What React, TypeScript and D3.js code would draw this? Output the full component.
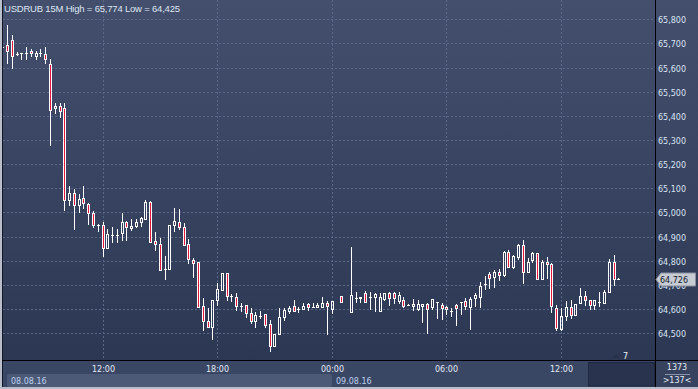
import * as d3 from 'd3'

// USDRUB, 15 minute candles, 08.08.16 06:45 .. 09.08.16 15:00
const SYMBOL = 'USDRUB'
const PERIOD = '15M'

const TIMES = [
  '08.08.16 06:45',
  '08.08.16 07:00', '08.08.16 07:15', '08.08.16 07:30', '08.08.16 07:45',
  '08.08.16 08:00', '08.08.16 08:15', '08.08.16 08:30', '08.08.16 08:45',
  '08.08.16 09:00', '08.08.16 09:15', '08.08.16 09:30', '08.08.16 09:45',
  '08.08.16 10:00', '08.08.16 10:15', '08.08.16 10:30', '08.08.16 10:45',
  '08.08.16 11:00', '08.08.16 11:15', '08.08.16 11:30', '08.08.16 11:45',
  '08.08.16 12:00', '08.08.16 12:15', '08.08.16 12:30', '08.08.16 12:45',
  '08.08.16 13:00', '08.08.16 13:15', '08.08.16 13:30', '08.08.16 13:45',
  '08.08.16 14:00', '08.08.16 14:15', '08.08.16 14:30', '08.08.16 14:45',
  '08.08.16 15:00', '08.08.16 15:15', '08.08.16 15:30', '08.08.16 15:45',
  '08.08.16 16:00', '08.08.16 16:15', '08.08.16 16:30', '08.08.16 16:45',
  '08.08.16 17:00', '08.08.16 17:15', '08.08.16 17:30', '08.08.16 17:45',
  '08.08.16 18:00', '08.08.16 18:15', '08.08.16 18:30', '08.08.16 18:45',
  '08.08.16 19:00', '08.08.16 19:15', '08.08.16 19:30', '08.08.16 19:45',
  '08.08.16 20:00', '08.08.16 20:15', '08.08.16 20:30', '08.08.16 20:45',
  '08.08.16 21:00', '08.08.16 21:15', '08.08.16 21:30', '08.08.16 21:45',
  '08.08.16 22:00', '08.08.16 22:15', '08.08.16 22:30', '08.08.16 22:45',
  '08.08.16 23:00', '08.08.16 23:15', '08.08.16 23:30', '08.08.16 23:45',
  '09.08.16 00:00', '09.08.16 00:30', '09.08.16 01:00', '09.08.16 01:15',
  '09.08.16 01:30', '09.08.16 01:45', '09.08.16 02:00', '09.08.16 02:15',
  '09.08.16 02:30', '09.08.16 02:45', '09.08.16 03:00', '09.08.16 03:15',
  '09.08.16 03:30', '09.08.16 03:45', '09.08.16 04:00', '09.08.16 04:15',
  '09.08.16 04:30', '09.08.16 04:45', '09.08.16 05:00', '09.08.16 05:15',
  '09.08.16 05:30', '09.08.16 05:45', '09.08.16 06:00', '09.08.16 06:15',
  '09.08.16 06:30', '09.08.16 06:45', '09.08.16 07:00', '09.08.16 07:15',
  '09.08.16 07:30', '09.08.16 07:45', '09.08.16 08:00', '09.08.16 08:15',
  '09.08.16 08:30', '09.08.16 08:45', '09.08.16 09:00', '09.08.16 09:15',
  '09.08.16 09:30', '09.08.16 09:45', '09.08.16 10:00', '09.08.16 10:15',
  '09.08.16 10:30', '09.08.16 10:45', '09.08.16 11:00', '09.08.16 11:15',
  '09.08.16 11:30', '09.08.16 11:45', '09.08.16 12:00', '09.08.16 12:15',
  '09.08.16 12:30', '09.08.16 12:45', '09.08.16 13:00', '09.08.16 13:15',
  '09.08.16 13:30', '09.08.16 13:45', '09.08.16 14:00', '09.08.16 14:15',
  '09.08.16 14:30', '09.08.16 14:45', '09.08.16 15:00',
]

const OPENS = [
  65.685, 65.693, 65.714, 65.658, 65.659, 65.660, 65.670, 65.648, 65.661, 65.655,
  65.613, 65.433, 65.441, 65.432, 65.052, 65.082, 65.030, 65.059, 65.035, 64.997,
  64.950, 64.950, 64.852, 64.907, 64.908, 64.914, 64.961, 64.936, 64.944, 64.962,
  64.975, 65.045, 64.882, 64.869, 64.766, 64.766, 64.949, 64.962, 64.941, 64.869,
  64.802, 64.795, 64.613, 64.551, 64.525, 64.638, 64.680, 64.749, 64.655, 64.652,
  64.613, 64.616, 64.586, 64.551, 64.572, 64.579, 64.539, 64.448, 64.496, 64.569,
  64.594, 64.613, 64.600, 64.602, 64.620, 64.608, 64.608, 64.610, 64.625, 64.601,
  64.655, 64.590, 64.648, 64.645, 64.668, 64.649, 64.652, 64.594, 64.641, 64.666,
  64.666, 64.635, 64.637, 64.619, 64.612, 64.601, 64.612, 64.622, 64.610, 64.629,
  64.616, 64.609, 64.593, 64.617, 64.631, 64.634, 64.610, 64.645, 64.652, 64.704,
  64.744, 64.731, 64.753, 64.740, 64.836, 64.773, 64.817, 64.864, 64.753, 64.804,
  64.831, 64.724, 64.797, 64.786, 64.606, 64.517, 64.572, 64.610, 64.576, 64.625,
  64.656, 64.638, 64.617, 64.631, 64.625, 64.670, 64.794, 64.725,
]

const HIGHS = [
  65.688, 65.774, 65.735, 65.664, 65.660, 65.684, 65.675, 65.670, 65.675, 65.684,
  65.634, 65.453, 65.453, 65.455, 65.110, 65.096, 65.077, 65.110, 65.041, 65.008,
  64.953, 64.962, 64.931, 64.939, 64.932, 64.999, 64.965, 64.972, 64.975, 64.983,
  65.052, 65.048, 64.920, 64.895, 64.820, 64.949, 65.018, 65.013, 64.956, 64.889,
  64.811, 64.797, 64.646, 64.604, 64.638, 64.710, 64.749, 64.749, 64.663, 64.668,
  64.627, 64.616, 64.604, 64.590, 64.594, 64.580, 64.553, 64.496, 64.604, 64.604,
  64.613, 64.638, 64.608, 64.625, 64.625, 64.627, 64.625, 64.652, 64.634, 64.634,
  64.655, 64.856, 64.671, 64.652, 64.675, 64.673, 64.668, 64.666, 64.668, 64.673,
  64.670, 64.670, 64.652, 64.620, 64.641, 64.638, 64.622, 64.627, 64.642, 64.629,
  64.627, 64.615, 64.604, 64.620, 64.631, 64.645, 64.652, 64.666, 64.714, 64.737,
  64.753, 64.762, 64.765, 64.839, 64.845, 64.824, 64.868, 64.886, 64.811, 64.838,
  64.834, 64.804, 64.815, 64.790, 64.617, 64.604, 64.635, 64.638, 64.622, 64.687,
  64.675, 64.638, 64.638, 64.673, 64.680, 64.808, 64.824, 64.727,
]

const LOWS = [
  65.683, 65.618, 65.597, 65.652, 65.634, 65.634, 65.648, 65.634, 65.648, 65.618,
  65.280, 65.412, 65.397, 65.011, 65.031, 64.931, 65.004, 65.018, 64.953, 64.941,
  64.925, 64.820, 64.852, 64.879, 64.878, 64.886, 64.886, 64.928, 64.941, 64.944,
  64.975, 64.879, 64.845, 64.762, 64.724, 64.766, 64.925, 64.931, 64.866, 64.790,
  64.732, 64.608, 64.514, 64.525, 64.476, 64.617, 64.680, 64.638, 64.635, 64.597,
  64.594, 64.567, 64.544, 64.528, 64.563, 64.528, 64.425, 64.448, 64.496, 64.555,
  64.583, 64.594, 64.590, 64.600, 64.597, 64.608, 64.608, 64.608, 64.496, 64.583,
  64.631, 64.590, 64.631, 64.631, 64.631, 64.601, 64.593, 64.594, 64.638, 64.617,
  64.625, 64.625, 64.610, 64.616, 64.597, 64.597, 64.546, 64.500, 64.601, 64.565,
  64.558, 64.579, 64.573, 64.535, 64.579, 64.601, 64.518, 64.613, 64.607, 64.685,
  64.687, 64.691, 64.721, 64.737, 64.774, 64.769, 64.807, 64.707, 64.753, 64.797,
  64.724, 64.724, 64.728, 64.590, 64.514, 64.514, 64.555, 64.563, 64.576, 64.625,
  64.617, 64.600, 64.600, 64.613, 64.625, 64.670, 64.700, 64.725,
]

const CLOSES = [
  65.685, 65.670, 65.648, 65.658, 65.659, 65.660, 65.659, 65.661, 65.661, 65.634,
  65.424, 65.441, 65.421, 65.052, 65.082, 65.031, 65.055, 65.038, 64.999, 64.949,
  64.950, 64.852, 64.911, 64.907, 64.908, 64.962, 64.939, 64.946, 64.962, 64.976,
  65.045, 64.879, 64.870, 64.762, 64.766, 64.949, 64.966, 64.939, 64.866, 64.807,
  64.790, 64.610, 64.551, 64.525, 64.638, 64.682, 64.749, 64.655, 64.655, 64.613,
  64.613, 64.583, 64.551, 64.575, 64.572, 64.533, 64.448, 64.496, 64.569, 64.597,
  64.606, 64.594, 64.600, 64.615, 64.610, 64.608, 64.617, 64.625, 64.613, 64.634,
  64.631, 64.659, 64.648, 64.649, 64.631, 64.649, 64.662, 64.650, 64.666, 64.645,
  64.645, 64.659, 64.612, 64.619, 64.622, 64.622, 64.622, 64.601, 64.642, 64.629,
  64.604, 64.601, 64.593, 64.606, 64.631, 64.615, 64.641, 64.659, 64.696, 64.704,
  64.730, 64.755, 64.742, 64.836, 64.774, 64.819, 64.864, 64.753, 64.797, 64.831,
  64.724, 64.797, 64.786, 64.613, 64.521, 64.572, 64.610, 64.576, 64.622, 64.656,
  64.638, 64.617, 64.638, 64.631, 64.670, 64.794, 64.724, 64.726,
]

const PRICE_TICKS = [64.5, 64.6, 64.7, 64.8, 64.9, 65.0, 65.1, 65.2, 65.3, 65.4, 65.5, 65.6, 65.7, 65.8]
const TIME_TICKS = ['08.08.16 12:00', '08.08.16 18:00', '09.08.16 00:00', '09.08.16 06:00', '09.08.16 12:00']
const DAY_LABELS = ['08.08.16', '09.08.16']
const BARS_TOTAL = '1373'
const BARS_SHIFT = '>137<'
const MARKER = '7'

const W = 698
const H = 389
const PLOT = { left: 3, right: 655, top: 0, bottom: 360 }

const BG_TOP = '#434f6d'
const BG_BOTTOM = '#2c3853'
const GRID = '#5a6989'
const BEAR = '#e3183c'
const LABEL = '#dbe4f3'
const AXIS_FONT = '"DejaVu Sans", Verdana, sans-serif'

const parse = d3.timeParse('%d.%m.%y %H:%M')
const fmtPrice = (v: number) => d3.format('.3f')(v).replace('.', ',')
const fmtTime = d3.timeFormat('%H:%M')

export default function App() {
  const candles = TIMES.map((t, i) => ({
    t: parse(t) as Date,
    o: OPENS[i],
    h: HIGHS[i],
    l: LOWS[i],
    c: CLOSES[i],
  }))

  const x = d3.scaleTime()
    .domain([parse(TIME_TICKS[0]) as Date, parse(TIME_TICKS[4]) as Date])
    .range([102.5, 561])

  const y = d3.scaleLinear()
    .domain([64.5, 65.8])
    .range([333.3, 19.2])

  const hi = d3.max(HIGHS) as number
  const lo = d3.min(LOWS) as number
  const last = CLOSES[CLOSES.length - 1]
  const yLast = Math.round(y(last))
  const xMidnight = Math.round(x(parse(TIME_TICKS[2]) as Date))

  return (
    <svg width={W} height={H} style={{ display: 'block' }}>
      <style>{`body { margin: 0; }`}</style>
      <defs>
        <linearGradient id="bg" x1="0" y1="0" x2="0" y2="1">
          <stop offset="0%" stopColor={BG_TOP} />
          <stop offset="100%" stopColor={BG_BOTTOM} />
        </linearGradient>
        <clipPath id="plotClip">
          <rect x={PLOT.left} y={PLOT.top} width={PLOT.right - PLOT.left} height={PLOT.bottom - PLOT.top} />
        </clipPath>
      </defs>

      {/* frame and panels */}
      <rect x={0} y={0} width={W} height={H} fill="#b8bfcb" />
      <rect x={2} y={0} width={W - 2} height={387} fill="#141824" />
      <rect x={PLOT.left} y={0} width={PLOT.right - PLOT.left} height={PLOT.bottom} fill="url(#bg)" />
      <rect x={656} y={0} width={W - 656} height={PLOT.bottom} fill="url(#bg)" />
      <rect x={PLOT.left} y={361} width={PLOT.right - PLOT.left} height={26} fill="#3a4764" />
      <rect x={656} y={361} width={W - 656} height={26} fill="#36425e" />
      <rect x={7} y={374} width={xMidnight - 7} height={13} rx={2} fill="#4c5a78" />
      <rect x={588.5} y={362.5} width={66} height={23.5} fill="#29334d" stroke="#1f2740" />

      {/* grid */}
      <g stroke={GRID} strokeWidth={1} strokeDasharray="2,2">
        {PRICE_TICKS.map(v => (
          <line key={v} x1={PLOT.left} x2={PLOT.right} y1={Math.round(y(v)) + 0.5} y2={Math.round(y(v)) + 0.5} />
        ))}
        {TIME_TICKS.map(t => {
          const xx = Math.round(x(parse(t) as Date)) + 0.5
          return <line key={t} x1={xx} x2={xx} y1={PLOT.top} y2={PLOT.bottom} />
        })}
      </g>

      {/* candles */}
      <g clipPath="url(#plotClip)">
        {candles.map((d, i) => {
          const cx = Math.round(x(d.t))
          const yTop = Math.round(y(Math.max(d.o, d.c)))
          const yBot = Math.round(y(Math.min(d.o, d.c)))
          const yH = Math.round(y(d.h))
          const yL = Math.round(y(d.l))
          const wx = cx + 0.5
          if (yBot - yTop < 1) {
            return (
              <g key={i} stroke="#fff" strokeWidth={1}>
                {yL > yH && <line x1={wx} x2={wx} y1={yH} y2={yL + 1} />}
                <line x1={cx - 1} x2={cx + 2} y1={yTop + 0.5} y2={yTop + 0.5} />
              </g>
            )
          }
          return (
            <g key={i} stroke="#fff" strokeWidth={1}>
              {yTop > yH && <line x1={wx} x2={wx} y1={yH} y2={yTop} />}
              {yL > yBot && <line x1={wx} x2={wx} y1={yBot + 1} y2={yL + 1} />}
              <rect
                x={cx - 0.5}
                y={yTop + 0.5}
                width={2}
                height={yBot - yTop}
                fill={d.c < d.o ? BEAR : 'none'}
              />
            </g>
          )
        })}
      </g>

      {/* separators */}
      <line x1={655.5} x2={655.5} y1={0} y2={387} stroke="#000" />
      <line x1={2} x2={W} y1={360.5} y2={360.5} stroke="#000" />

      {/* price axis */}
      <g fontFamily={AXIS_FONT} fontSize={8} fill={LABEL}>
        {PRICE_TICKS.map(v => (
          <text key={v} x={658} y={Math.round(y(v)) + 3.5}>{fmtPrice(v)}</text>
        ))}
      </g>

      {/* last price tag */}
      <polygon
        points={`656,${yLast + 0.5} 661,${yLast - 6} 695.5,${yLast - 6} 695.5,${yLast + 7} 661,${yLast + 7}`}
        fill="#c7cbd3"
        stroke="#8a90a0"
      />
      <text x={660} y={yLast + 4} fontFamily={AXIS_FONT} fontSize={8} fill="#141a2a">{fmtPrice(last)}</text>

      {/* time axis */}
      <g fontFamily={AXIS_FONT} fontSize={8} fill="#e4eaf5" textAnchor="middle">
        {TIME_TICKS.map(t => (
          <text key={t} x={Math.round(x(parse(t) as Date)) + 0.5} y={371.5}>{fmtTime(parse(t) as Date)}</text>
        ))}
      </g>
      <g fontFamily={AXIS_FONT} fontSize={8} fill="#bcd0ee">
        <text x={11} y={383.5}>{DAY_LABELS[0]}</text>
        <text x={xMidnight + 4} y={383.5}>{DAY_LABELS[1]}</text>
      </g>

      {/* shift marker */}
      <polygon points="612,358 616,353.5 620,358" fill="#27314a" />
      <text x={623} y={358.5} fontFamily={AXIS_FONT} fontSize={8} fill="#eef2f8">{MARKER}</text>

      {/* bars counter */}
      <g fontFamily={AXIS_FONT} fontSize={8} fill="#e4eaf5" textAnchor="middle">
        <text x={677} y={370}>{BARS_TOTAL}</text>
        <text x={677} y={383}>{BARS_SHIFT}</text>
      </g>
      <line x1={665} x2={690} y1={374.5} y2={374.5} stroke="#8a94a8" />

      {/* title */}
      <text
        x={4}
        y={11.5}
        fontFamily='"Liberation Sans", Arial, sans-serif'
        fontSize={9.5}
        letterSpacing={-0.2}
        fill="#dfe6f2"
      >
        {`${SYMBOL} ${PERIOD} High = ${fmtPrice(hi)} Low = ${fmtPrice(lo)}`}
      </text>
    </svg>
  )
}
